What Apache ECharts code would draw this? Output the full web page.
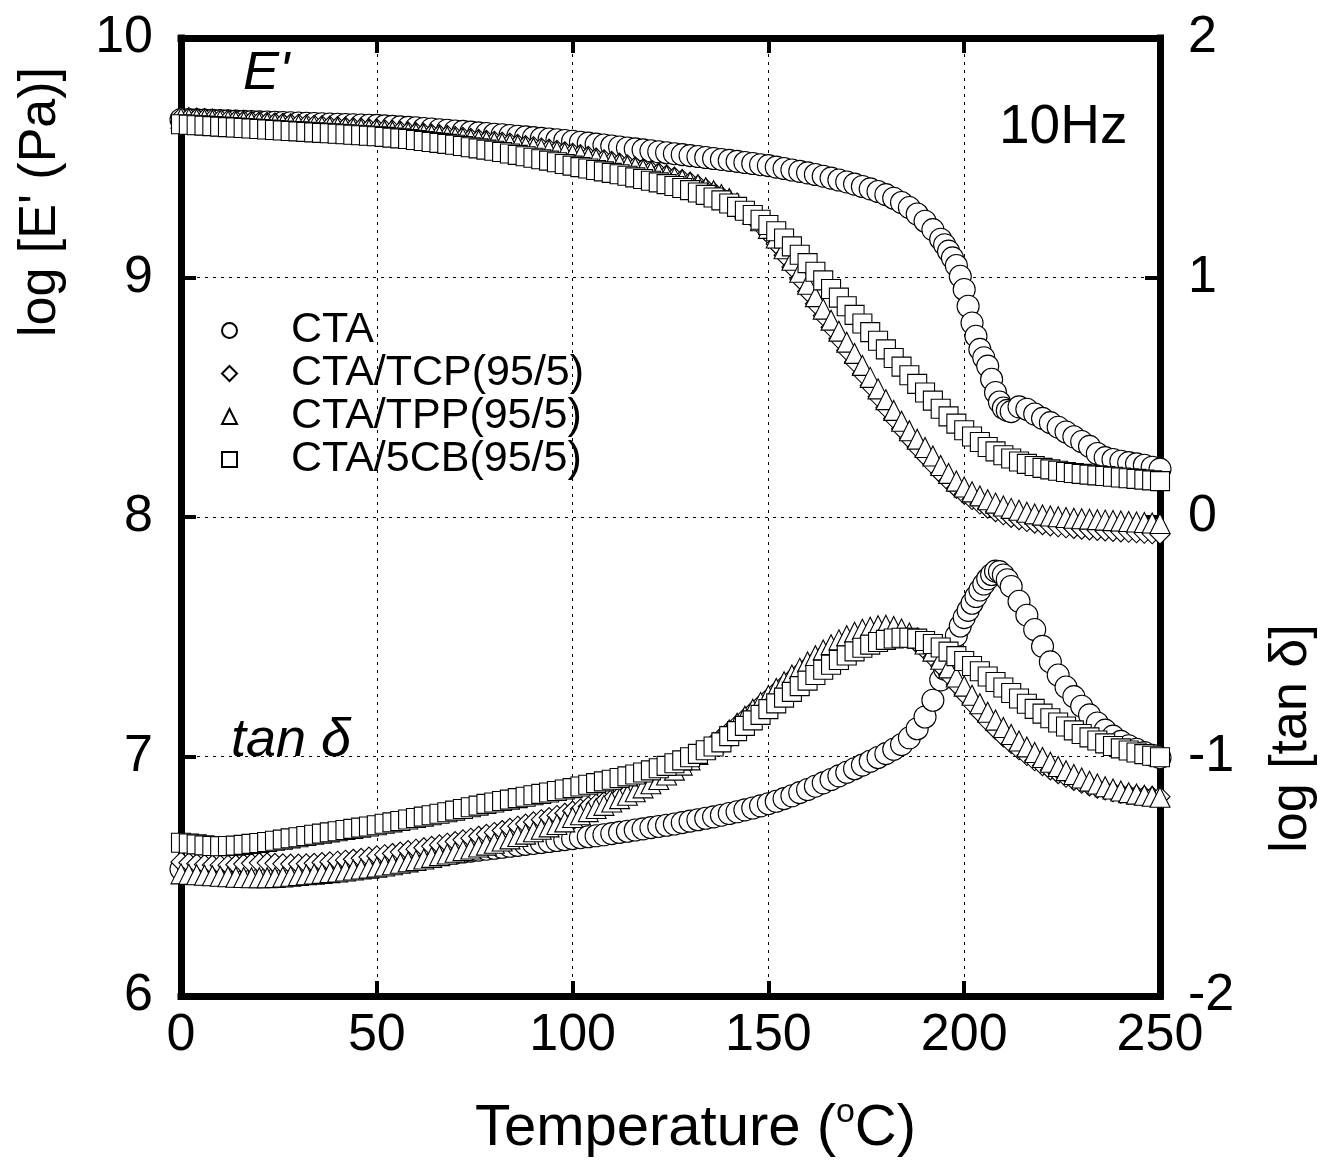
<!DOCTYPE html>
<html>
<head>
<meta charset="utf-8">
<script src="https://cdn.jsdelivr.net/npm/echarts@6/dist/echarts.min.js"></script>
<style>
html,body{margin:0;padding:0;background:#fff;}
#chart{width:1326px;height:1163px;}
</style>
</head>
<body>
<div id="chart"></div>
<script>
// Temperature (°C) for the blend samples
const temps = [0,2,4,6,8,10,12,14,16,18,20,22,24,26,28,30,32,34,36,38,40,42,44,46,48,50,52,54,56,58,60,62,64,66,68,70,72,74,76,78,80,82,84,86,88,90,92,94,96,98,100,102,104,106,108,110,112,114,116,118,120,122,124,126,128,130,132,134,136,138,140,142,144,146,148,150,152,154,156,158,160,162,164,166,168,170,172,174,176,178,180,182,184,186,188,190,192,194,196,198,200,202,204,206,208,210,212,214,216,218,220,222,224,226,228,230,232,234,236,238,240,242,244,246,248,250];
// Temperature (°C) for neat CTA (denser through its transition)
const ctaTemps = [0,2,4,6,8,10,12,14,16,18,20,22,24,26,28,30,32,34,36,38,40,42,44,46,48,50,52,54,56,58,60,62,64,66,68,70,72,74,76,78,80,82,84,86,88,90,92,94,96,98,100,102,104,106,108,110,112,114,116,118,120,122,124,126,128,130,132,134,136,138,140,142,144,146,148,150,152,154,156,158,160,162,164,166,168,170,172,174,176,178,180,182,184,186,188,190,192,194,195,196,197,198,199,200,201,202,203,204,205,206,207,208,209,210,211,212,214,216,218,220,222,224,226,228,230,232,234,236,238,240,242,244,246,248,250];

// log E' (Pa)
const ctaE = [9.660,9.659,9.658,9.657,9.656,9.655,9.654,9.653,9.652,9.651,
 9.650,9.649,9.648,9.647,9.646,9.645,9.644,9.643,9.642,9.641,
 9.640,9.639,9.638,9.637,9.636,9.635,9.633,9.631,9.629,9.627,
 9.625,9.622,9.620,9.617,9.615,9.612,9.610,9.607,9.604,9.601,
 9.598,9.596,9.593,9.590,9.587,9.584,9.581,9.578,9.575,9.572,
 9.569,9.565,9.561,9.557,9.553,9.549,9.545,9.541,9.537,9.533,
 9.529,9.525,9.521,9.517,9.513,9.509,9.505,9.501,9.497,9.493,
 9.489,9.485,9.480,9.476,9.471,9.467,9.461,9.455,9.449,9.443,
 9.437,9.430,9.423,9.415,9.407,9.399,9.390,9.380,9.370,9.359,
 9.346,9.331,9.313,9.292,9.265,9.235,9.200,9.160,
 9.137,9.110,9.082,9.050,9.005,8.950,8.880,8.810,8.755,8.700,
 8.665,8.630,8.575,8.520,8.480,8.455,8.445,8.440,
 8.460,8.450,8.430,8.412,8.394,8.375,8.355,8.335,8.315,8.295,
 8.265,8.248,8.240,8.233,8.227,8.222,8.216,8.208,8.200];
const tcpE = [9.670,9.668,9.666,9.664,9.662,9.660,9.658,9.656,9.654,9.652,
 9.650,9.648,9.646,9.644,9.642,9.640,9.638,9.636,9.634,9.632,
 9.630,9.628,9.626,9.624,9.622,9.620,9.617,9.614,9.611,9.608,
 9.605,9.602,9.599,9.596,9.593,9.589,9.585,9.581,9.577,9.573,
 9.569,9.565,9.561,9.556,9.551,9.546,9.541,9.536,9.531,9.525,
 9.519,9.513,9.506,9.499,9.492,9.485,9.478,9.470,9.462,9.454,
 9.446,9.437,9.428,9.419,9.409,9.398,9.386,9.372,9.357,9.340,
 9.321,9.300,9.276,9.249,9.218,9.182,9.140,9.093,9.044,8.994,
 8.942,8.890,8.840,8.792,8.744,8.696,8.647,8.598,8.549,8.502,
 8.456,8.411,8.368,8.328,8.290,8.254,8.218,8.182,8.150,8.120,
 8.095,8.073,8.054,8.037,8.022,8.009,7.998,7.989,7.981,7.974,
 7.968,7.963,7.959,7.955,7.952,7.949,7.946,7.944,7.942,7.940,
 7.938,7.936,7.934,7.932,7.930,7.928];
const tppE = [9.665,9.663,9.661,9.659,9.657,9.655,9.653,9.651,9.649,9.647,
 9.645,9.643,9.641,9.639,9.637,9.635,9.633,9.631,9.629,9.627,
 9.625,9.623,9.621,9.619,9.617,9.615,9.612,9.609,9.606,9.603,
 9.600,9.597,9.594,9.591,9.588,9.584,9.580,9.576,9.572,9.568,
 9.564,9.560,9.556,9.551,9.546,9.541,9.536,9.531,9.526,9.520,
 9.514,9.508,9.501,9.494,9.487,9.480,9.473,9.466,9.458,9.450,
 9.442,9.434,9.426,9.417,9.408,9.398,9.387,9.375,9.362,9.347,
 9.330,9.311,9.290,9.265,9.237,9.205,9.165,9.120,9.072,9.022,
 8.972,8.920,8.868,8.822,8.776,8.730,8.683,8.633,8.583,8.535,
 8.490,8.445,8.400,8.360,8.325,8.290,8.255,8.215,8.182,8.150,
 8.125,8.105,8.088,8.072,8.058,8.046,8.036,8.028,8.020,8.013,
 8.008,8.004,8.001,7.998,7.995,7.993,7.991,7.989,7.987,7.985,
 7.983,7.981,7.979,7.977,7.975,7.973];
const cbE = [9.640,9.638,9.636,9.634,9.632,9.630,9.628,9.626,9.624,9.622,
 9.620,9.618,9.616,9.614,9.612,9.610,9.608,9.606,9.604,9.602,
 9.600,9.598,9.596,9.594,9.592,9.590,9.587,9.584,9.581,9.578,
 9.574,9.570,9.566,9.562,9.558,9.554,9.549,9.544,9.539,9.534,
 9.529,9.524,9.518,9.512,9.506,9.500,9.494,9.488,9.481,9.474,
 9.467,9.461,9.455,9.449,9.443,9.437,9.431,9.425,9.418,9.411,
 9.404,9.397,9.390,9.382,9.374,9.365,9.355,9.345,9.334,9.322,
 9.309,9.295,9.279,9.261,9.241,9.219,9.193,9.163,9.130,9.095,
 9.060,9.024,8.988,8.952,8.916,8.880,8.844,8.808,8.772,8.736,
 8.700,8.664,8.628,8.592,8.556,8.520,8.486,8.452,8.420,8.390,
 8.362,8.336,8.313,8.292,8.274,8.258,8.244,8.232,8.222,8.213,
 8.205,8.199,8.193,8.188,8.184,8.180,8.177,8.174,8.171,8.168,
 8.165,8.162,8.159,8.156,8.153,8.150];

// log tan delta
const ctaT = [-1.470,-1.472,-1.474,-1.476,-1.478,-1.479,-1.480,-1.481,-1.481,-1.481,
 -1.480,-1.479,-1.478,-1.476,-1.474,-1.472,-1.469,-1.466,-1.463,-1.460,
 -1.457,-1.454,-1.451,-1.448,-1.445,-1.442,-1.439,-1.435,-1.431,-1.427,
 -1.423,-1.419,-1.415,-1.411,-1.407,-1.403,-1.399,-1.395,-1.391,-1.387,
 -1.383,-1.379,-1.375,-1.371,-1.367,-1.363,-1.359,-1.355,-1.351,-1.347,
 -1.343,-1.339,-1.335,-1.331,-1.327,-1.322,-1.317,-1.312,-1.307,-1.302,
 -1.297,-1.292,-1.287,-1.282,-1.276,-1.270,-1.264,-1.258,-1.252,-1.245,
 -1.238,-1.231,-1.223,-1.215,-1.206,-1.197,-1.187,-1.176,-1.164,-1.151,
 -1.138,-1.124,-1.110,-1.096,-1.081,-1.066,-1.051,-1.036,-1.020,-1.004,
 -0.988,-0.970,-0.950,-0.922,-0.884,-0.835,-0.765,-0.680,
 -0.635,-0.590,-0.543,-0.495,-0.455,-0.420,-0.390,-0.360,-0.332,-0.305,
 -0.280,-0.258,-0.240,-0.226,-0.228,-0.242,-0.262,-0.290,
 -0.352,-0.410,-0.470,-0.540,-0.605,-0.660,-0.710,-0.750,-0.790,-0.826,
 -0.860,-0.890,-0.915,-0.937,-0.955,-0.970,-0.983,-0.995,-1.005];
const tcpT = [-1.440,-1.444,-1.448,-1.451,-1.453,-1.454,-1.454,-1.452,-1.449,-1.446,
 -1.444,-1.444,-1.446,-1.448,-1.449,-1.449,-1.448,-1.446,-1.443,-1.440,
 -1.437,-1.433,-1.429,-1.425,-1.420,-1.415,-1.410,-1.405,-1.399,-1.393,
 -1.387,-1.381,-1.375,-1.369,-1.362,-1.355,-1.348,-1.341,-1.333,-1.325,
 -1.317,-1.309,-1.300,-1.291,-1.282,-1.273,-1.264,-1.255,-1.246,-1.237,
 -1.228,-1.219,-1.209,-1.199,-1.189,-1.178,-1.166,-1.153,-1.139,-1.124,
 -1.108,-1.091,-1.073,-1.054,-1.034,-1.013,-0.991,-0.968,-0.944,-0.919,
 -0.893,-0.866,-0.838,-0.810,-0.782,-0.754,-0.726,-0.699,-0.672,-0.646,
 -0.621,-0.597,-0.574,-0.553,-0.534,-0.517,-0.503,-0.491,-0.482,-0.477,
 -0.476,-0.480,-0.490,-0.506,-0.528,-0.555,-0.587,-0.622,-0.660,-0.700,
 -0.740,-0.780,-0.818,-0.854,-0.887,-0.918,-0.946,-0.972,-0.996,-1.018,
 -1.038,-1.056,-1.072,-1.087,-1.100,-1.112,-1.123,-1.132,-1.140,-1.147,
 -1.153,-1.158,-1.162,-1.165,-1.167,-1.168];
const tppT = [-1.490,-1.492,-1.494,-1.496,-1.498,-1.500,-1.502,-1.504,-1.505,-1.506,
 -1.506,-1.506,-1.505,-1.503,-1.500,-1.497,-1.494,-1.491,-1.488,-1.485,
 -1.482,-1.478,-1.474,-1.470,-1.466,-1.462,-1.457,-1.452,-1.446,-1.440,
 -1.434,-1.428,-1.421,-1.414,-1.407,-1.400,-1.393,-1.386,-1.378,-1.370,
 -1.362,-1.353,-1.344,-1.334,-1.324,-1.314,-1.304,-1.294,-1.284,-1.273,
 -1.255,-1.243,-1.230,-1.217,-1.204,-1.190,-1.176,-1.162,-1.147,-1.131,
 -1.114,-1.096,-1.077,-1.057,-1.036,-1.014,-0.991,-0.967,-0.942,-0.916,
 -0.889,-0.861,-0.832,-0.803,-0.774,-0.745,-0.716,-0.688,-0.660,-0.632,
 -0.605,-0.579,-0.555,-0.533,-0.513,-0.496,-0.481,-0.469,-0.460,-0.454,
 -0.452,-0.457,-0.468,-0.484,-0.505,-0.530,-0.560,-0.594,-0.630,-0.668,
 -0.706,-0.744,-0.780,-0.815,-0.848,-0.879,-0.908,-0.935,-0.960,-0.983,
 -1.004,-1.024,-1.042,-1.059,-1.075,-1.090,-1.103,-1.115,-1.126,-1.136,
 -1.144,-1.151,-1.157,-1.162,-1.166,-1.170];
const cbT = [-1.360,-1.363,-1.367,-1.371,-1.374,-1.375,-1.374,-1.372,-1.369,-1.365,
 -1.361,-1.357,-1.352,-1.347,-1.342,-1.337,-1.332,-1.327,-1.322,-1.317,
 -1.312,-1.307,-1.302,-1.297,-1.292,-1.287,-1.281,-1.275,-1.269,-1.263,
 -1.257,-1.251,-1.245,-1.239,-1.233,-1.226,-1.219,-1.212,-1.205,-1.198,
 -1.192,-1.186,-1.180,-1.174,-1.168,-1.162,-1.156,-1.150,-1.144,-1.138,
 -1.132,-1.125,-1.118,-1.111,-1.104,-1.097,-1.090,-1.083,-1.075,-1.067,
 -1.058,-1.049,-1.039,-1.028,-1.016,-1.003,-0.989,-0.974,-0.958,-0.941,
 -0.915,-0.894,-0.872,-0.849,-0.826,-0.802,-0.778,-0.754,-0.730,-0.706,
 -0.683,-0.660,-0.638,-0.617,-0.597,-0.578,-0.561,-0.546,-0.533,-0.522,
 -0.513,-0.507,-0.504,-0.504,-0.508,-0.518,-0.530,-0.545,-0.562,-0.581,
 -0.601,-0.622,-0.644,-0.666,-0.689,-0.712,-0.735,-0.758,-0.780,-0.801,
 -0.821,-0.840,-0.858,-0.875,-0.891,-0.906,-0.920,-0.933,-0.945,-0.956,
 -0.966,-0.975,-0.983,-0.990,-0.997,-1.003];

const seriesNames = ['CTA', 'CTA/TCP(95/5)', 'CTA/TPP(95/5)', 'CTA/5CB(95/5)'];
const xTicks = [0, 50, 100, 150, 200, 250];
const leftTicks = [6, 7, 8, 9, 10];
const rightTicks = [-2, -1, 0, 1, 2];

const FONT = '"Liberation Sans", Arial, sans-serif';
const chart = echarts.init(document.getElementById('chart'), null, {renderer: 'canvas'});

function pts(ts, arr) { return ts.map((t, i) => [t, arr[i]]); }
function mk(name, symbol, size, yIdx, ts, arr) {
  return {
    type: 'scatter', name: name, symbol: symbol, symbolSize: size,
    xAxisIndex: 0, yAxisIndex: yIdx, data: pts(ts, arr),
    itemStyle: {color: '#ffffff', borderColor: '#000000', borderWidth: 1.1, opacity: 1},
    emphasis: {disabled: true}, silent: true, animation: false
  };
}

const frameLine = {show: true, onZero: false, lineStyle: {color: '#000', width: 7, cap: 'square'}};
const tick = {show: true, inside: true, length: 15, lineStyle: {color: '#000', width: 4}};
const grid = {show: true, lineStyle: {color: '#000', width: 1, type: [3, 5]}};
const lbl = {color: '#000', fontFamily: FONT, fontSize: 52};

const option = {
  animation: false,
  backgroundColor: '#fff',
  grid: {left: 181, right: 164, top: 38, bottom: 164, containLabel: false},
  legend: {
    data: seriesNames, orient: 'vertical', left: 221, top: 309,
    padding: 0, itemGap: 0, itemWidth: 15, itemHeight: 15,
    textStyle: {fontFamily: FONT, fontSize: 43, lineHeight: 42.5, color: '#000', padding: [0, 0, 0, 49]},
    selectedMode: false
  },
  xAxis: [{
    type: 'value', position: 'bottom', min: xTicks[0], max: xTicks[xTicks.length - 1], interval: 50,
    axisLine: frameLine, axisTick: tick, splitLine: grid,
    axisLabel: Object.assign({margin: 14}, lbl),
    name: '{a|Temperature (}{s|o}{a|C)}', nameLocation: 'middle', nameGap: 100,
    nameTextStyle: {padding: [0, 0, 0, 50], rich: {
      a: {fontFamily: FONT, fontSize: 58, color: '#000', lineHeight: 66},
      s: {fontFamily: FONT, fontSize: 34, color: '#000', verticalAlign: 'top', lineHeight: 66, padding: [0, 0, 26, 0]}
    }}
  }, {
    type: 'value', position: 'top', min: 0, max: 250, interval: 50,
    axisLine: frameLine, axisTick: tick, splitLine: {show: false}, axisLabel: {show: false}
  }],
  yAxis: [{
    type: 'value', position: 'left', min: leftTicks[0], max: leftTicks[leftTicks.length - 1], interval: 1,
    axisLine: frameLine, axisTick: tick, splitLine: grid,
    axisLabel: Object.assign({margin: 28, padding: [0, 0, 8, 0]}, lbl),
    name: "log [E' (Pa)]", nameLocation: 'middle', nameRotate: 90, nameGap: 114,
    nameTextStyle: {fontFamily: FONT, fontSize: 52, color: '#000', padding: [0, 0, 0, 630]}
  }, {
    type: 'value', position: 'right', min: rightTicks[0], max: rightTicks[rightTicks.length - 1], interval: 1,
    axisLine: frameLine, axisTick: tick, splitLine: {show: false},
    axisLabel: Object.assign({margin: 28, padding: [0, 0, 8, 0]}, lbl),
    name: 'log [tan δ]', nameLocation: 'middle', nameRotate: 90, nameGap: 106,
    nameTextStyle: {fontFamily: FONT, fontSize: 52, color: '#000', padding: [0, 443, 0, 0]}
  }],
  graphic: [
    {type: 'text', x: 243, y: 74, silent: true, style: {text: "E'", font: 'italic 54px ' + FONT, fill: '#000', align: 'left', verticalAlign: 'middle'}},
    {type: 'text', x: 999, y: 128, silent: true, style: {text: '10Hz', font: '55px ' + FONT, fill: '#000', align: 'left', verticalAlign: 'middle'}},
    {type: 'text', x: 231, y: 741, silent: true, style: {text: 'tan δ', font: 'italic 54px ' + FONT, fill: '#000', align: 'left', verticalAlign: 'middle'}}
  ],
  series: [
    mk(seriesNames[0], 'circle', 22, 0, ctaTemps, ctaE),
    mk(seriesNames[0], 'circle', 22, 1, ctaTemps, ctaT),
    mk(seriesNames[1], 'diamond', 20, 0, temps, tcpE),
    mk(seriesNames[1], 'diamond', 20, 1, temps, tcpT),
    mk(seriesNames[2], 'triangle', 20, 0, temps, tppE),
    mk(seriesNames[2], 'triangle', 20, 1, temps, tppT),
    mk(seriesNames[3], 'rect', 19, 0, temps, cbE),
    mk(seriesNames[3], 'rect', 19, 1, temps, cbT)
  ]
};
chart.setOption(option);
</script>
</body>
</html>
